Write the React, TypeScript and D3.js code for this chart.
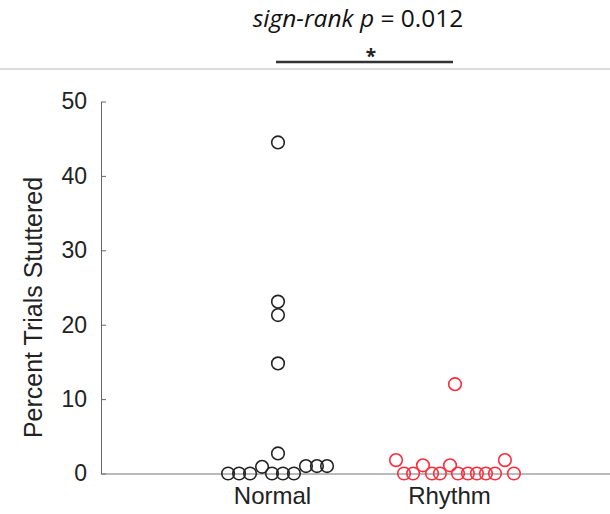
import React, { useEffect, useRef } from "react";
import * as d3 from "d3";

// group labels and their x positions (category units)
const groups = ["Normal", "Rhythm"];
const groupPos = [1, 2];

// percent trials stuttered per subject
const normalValues = [44.5, 23.1, 21.3, 14.8, 2.7, 0, 0, 0, 0.9, 0, 0, 0, 1, 1, 1];
// swarm offsets from group centre, in category units
const normalJitter = [0, 0, 0, 0, 0, -0.282, -0.22, -0.158, -0.09, -0.034, 0.028, 0.09, 0.158, 0.22, 0.277];

const rhythmValues = [12, 1.8, 0, 0, 1.1, 0, 0, 1.1, 0, 0, 0, 0, 0, 1.8, 0];
const rhythmJitter = [0, -0.333, -0.288, -0.237, -0.181, -0.13, -0.085, -0.028, 0.017, 0.073, 0.124, 0.175, 0.226, 0.282, 0.333];

const yTicks = [0, 10, 20, 30, 40, 50];

const W = 610;
const H = 514;
const sans = "Arial, 'Liberation Sans', Helvetica, sans-serif";

export default function App() {
  const svgRef = useRef<SVGSVGElement>(null);

  useEffect(() => {
    const svg = d3.select(svgRef.current);
    svg.selectAll("*").remove();

    const x = d3.scaleLinear().domain([0, 3]).range([101, 632]);
    const y = d3.scaleLinear().domain([0, 50]).range([473.5, 101.5]);

    // stats annotation on top
    const title = svg
      .append("text")
      .attr("x", 358)
      .attr("y", 27)
      .attr("text-anchor", "middle")
      .attr("font-family", "'Open Sans', Lato, sans-serif")
      .attr("font-size", 24.5)
      .attr("fill", "#111");
    title.append("tspan").attr("font-style", "italic").text("sign-rank p");
    title.append("tspan").text(" = 0.012");

    svg
      .append("line")
      .attr("x1", x(groupPos[0]) - 2)
      .attr("x2", x(groupPos[1]) - 2)
      .attr("y1", 62)
      .attr("y2", 62)
      .attr("stroke", "#333")
      .attr("stroke-width", 2.5);

    svg
      .append("text")
      .attr("x", 371)
      .attr("y", 63)
      .attr("text-anchor", "middle")
      .attr("font-family", "'Open Sans', sans-serif")
      .attr("font-weight", "bold")
      .attr("font-size", 19)
      .attr("fill", "#222")
      .text("*");

    svg
      .append("line")
      .attr("x1", 0)
      .attr("x2", W)
      .attr("y1", 69)
      .attr("y2", 69)
      .attr("stroke", "#bbb")
      .attr("stroke-width", 1);

    // y axis
    const yAxis = svg
      .append("g")
      .attr("transform", `translate(${x(0)},0)`)
      .call(d3.axisLeft(y).tickValues(yTicks).tickSizeInner(-5).tickSizeOuter(0).tickPadding(14));
    yAxis.select(".domain").attr("stroke", "#666");
    yAxis.selectAll(".tick line").attr("stroke", "#666");
    yAxis
      .selectAll(".tick text")
      .attr("font-family", sans)
      .attr("font-size", 23)
      .attr("fill", "#222");

    // x axis baseline with group labels
    const xAxis = svg
      .append("g")
      .attr("transform", `translate(0,${y(0)})`)
      .call(d3.axisBottom(x).tickValues(groupPos).tickFormat((d, i) => groups[i]).tickSize(0).tickPadding(13));
    xAxis.select(".domain").attr("stroke", "#777");
    xAxis
      .selectAll(".tick text")
      .attr("dx", -6)
      .attr("font-family", sans)
      .attr("font-size", 24)
      .attr("fill", "#222");

    // y label
    svg
      .append("text")
      .attr("transform", `translate(42,${(y(0) + y(50)) / 2 + 20}) rotate(-90)`)
      .attr("text-anchor", "middle")
      .attr("font-family", sans)
      .attr("font-size", 25)
      .attr("fill", "#222")
      .text("Percent Trials Stuttered");

    const drawSwarm = (vals: number[], jit: number[], centre: number, color: string) => {
      svg
        .append("g")
        .selectAll("circle")
        .data(vals)
        .enter()
        .append("circle")
        .attr("cx", (d, i) => x(centre + jit[i]))
        .attr("cy", (d) => y(d))
        .attr("r", 6.3)
        .attr("fill", "none")
        .attr("stroke", color)
        .attr("stroke-width", 1.6);
    };

    drawSwarm(normalValues, normalJitter, groupPos[0], "#222");
    drawSwarm(rhythmValues, rhythmJitter, groupPos[1], "#ff2b3b");
  }, []);

  return (
    <svg
      ref={svgRef}
      width={W}
      height={H}
      style={{ position: "absolute", left: 0, top: 0, background: "#fff" }}
    ></svg>
  );
}
